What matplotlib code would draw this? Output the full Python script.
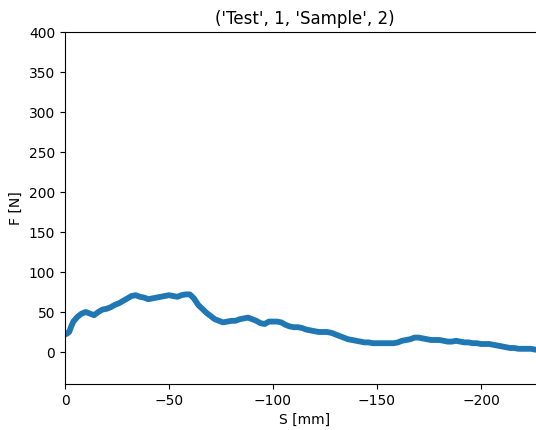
import matplotlib
matplotlib.use("Agg")
from matplotlib import pyplot as plt
import numpy as np

# displacement [mm] and force [N]
s_mm = [0, -1, -2, -3, -4, -5, -6, -8, -10, -12, -14, -16, -18, -20, -22, -24,
        -26, -28, -30, -32, -34, -36, -38, -40, -42, -44, -46, -48, -50, -52,
        -54, -56, -58, -60, -62, -64, -66, -68, -70, -72, -74, -76, -78, -80,
        -82, -84, -86, -88, -90, -92, -94, -96, -98, -100, -102, -104, -106,
        -108, -110, -112, -114, -116, -118, -120, -122, -124, -126, -128, -130,
        -132, -134, -136, -138, -140, -142, -144, -146, -148, -150, -152, -154,
        -156, -158, -160, -162, -164, -166, -168, -170, -172, -174, -176, -178,
        -180, -182, -184, -186, -188, -190, -192, -194, -196, -198, -200, -202,
        -204, -206, -208, -210, -212, -214, -216, -218, -220, -222, -224, -226,
        -228]
f_n = [22, 23, 25, 32, 38, 41, 44, 48, 50, 48, 46, 50, 53, 54, 56, 59,
       61, 64, 67, 70, 71, 69, 68, 66, 67, 68, 69, 70, 71, 70,
       69, 71, 72, 72, 67, 59, 54, 49, 45, 41, 39, 37, 38, 39,
       39, 41, 42, 43, 41, 39, 36, 35, 38, 38, 38, 37, 34,
       32, 31, 31, 30, 28, 27, 26, 25, 25, 25, 24, 22,
       20, 18, 16, 15, 14, 13, 12, 12, 11, 11, 11, 11,
       11, 11, 12, 14, 15, 16, 18, 18, 17, 16, 15, 15,
       15, 14, 13, 13, 14, 13, 12, 12, 11, 11, 10, 10,
       10, 9, 8, 7, 6, 5, 5, 4, 4, 4, 4, 3,
       3]

title = ('Test', 1, 'Sample', 2)

fig = plt.figure(figsize=(5.36, 4.30), dpi=100)
ax = fig.add_axes([65 / 536, 1 - 384 / 430, (545 - 65) / 536, (384 - 32) / 430])

ax.plot(s_mm, f_n, color="#1f77b4", linewidth=4.2, solid_joinstyle="round")

ax.set_xlim(0, -(545 - 65) / 2.08)
ax.set_ylim(-40, 400)
ax.set_xticks([0, -50, -100, -150, -200])
ax.set_yticks(np.arange(0, 401, 50))

ax.set_xlabel("S [mm]")
ax.set_ylabel("F [N]")
ax.set_title(str(title))

fig.savefig("out.png", dpi=100)
